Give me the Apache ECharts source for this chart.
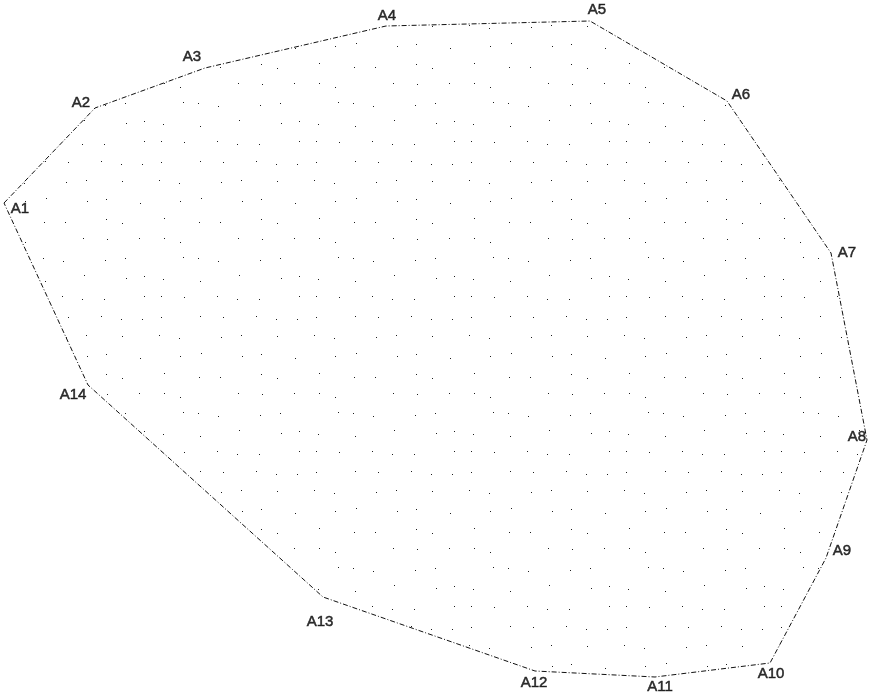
<!DOCTYPE html>
<html>
<head>
<meta charset="utf-8">
<script src="https://cdn.jsdelivr.net/npm/echarts@6/dist/echarts.min.js"></script>
<style>
html,body{margin:0;padding:0;background:#fff;}
#chart{width:872px;height:699px;}
</style>
</head>
<body>
<div id="chart"></div>
<script>
// ---- data ----
const names = ['A1','A2','A3','A4','A5','A6','A7','A8','A9','A10','A11','A12','A13','A14'];
const xs = [4, 95, 205, 386, 590, 727, 831, 867, 826, 770, 655, 535, 323, 88];
const ys = [203, 108, 68, 26, 21, 101, 253, 440, 558, 663, 677, 671, 597, 385];

// ---- styles ----
const LABEL_OFFSETS = [[16,6],[-14,-5],[-13,-11],[1,-10],[7,-11],[14,-6],[16,0],[-10,-3],[16,-7],[1,11],[5,10],[-1,12],[-3,25],[-15,10]];
const DOT_MASK = ['10110111','11011010','01101101','10110110','11001101','01110110','10101011','11011101'];
const DOT_JIT = [[0,1],[3,0],[1,3],[-2,0],[4,1],[1,-2],[0,4],[2,2],[-1,3],[3,-1],[0,0]];

function makePattern(){
  const cell = 19.33, n = 8;
  const size = Math.round(cell*n);
  const c = document.createElement('canvas');
  c.width = size; c.height = size;
  const g = c.getContext('2d');
  g.fillStyle = '#1e1e1e';
  for (let r = 0; r < n; r++) {
    for (let k = 0; k < n; k++) {
      if (DOT_MASK[r][k] === '1') {
        const j = DOT_JIT[(r * 3 + k * 5) % DOT_JIT.length];
        g.fillRect(Math.round(k*cell + 6 + j[0]), Math.round(r*cell + 6 + j[1]), 1, 1);
      }
    }
  }
  return c;
}
const pattern = makePattern();

const chart = echarts.init(document.getElementById('chart'), null, {renderer:'canvas'});
const labelData = names.map((n,i)=>({
  name: n, value: [xs[i], ys[i]],
  label: {offset: LABEL_OFFSETS[i]}
}));
const edgeData = xs.map((x,i)=>[x, ys[i]]).concat([[xs[0], ys[0]]]);

chart.setOption({
  backgroundColor: '#ffffff',
  animation: false,
  grid: {left:0, right:0, top:0, bottom:0},
  xAxis: {type:'value', min:0, max:872, show:false},
  yAxis: {type:'value', min:0, max:699, inverse:true, show:false},
  series: [
    {
      type: 'custom',
      data: [[0]],
      silent: true,
      renderItem: function(params, api){
        const pts = xs.map((x,i)=>api.coord([x, ys[i]]));
        return {
          type: 'polygon',
          shape: {points: pts},
          style: {fill: {image: pattern, repeat: 'repeat'}, stroke: null}
        };
      },
      z: 1
    },
    {
      type: 'line',
      data: edgeData,
      symbol: 'none',
      silent: true,
      lineStyle: {color:'#111', width:1, type:[5,2,1,2]},
      z: 2
    },
    {
      type: 'scatter',
      data: labelData,
      symbolSize: 0,
      silent: true,
      label: {
        show: true, position: 'inside', formatter: '{b}',
        color: '#000', fontFamily: 'Liberation Sans, Arial, sans-serif',
        fontSize: 15, align: 'center', verticalAlign: 'middle',
        textBorderColor: '#000', textBorderWidth: 0.5
      },
      z: 3
    }
  ]
});
</script>
</body>
</html>
